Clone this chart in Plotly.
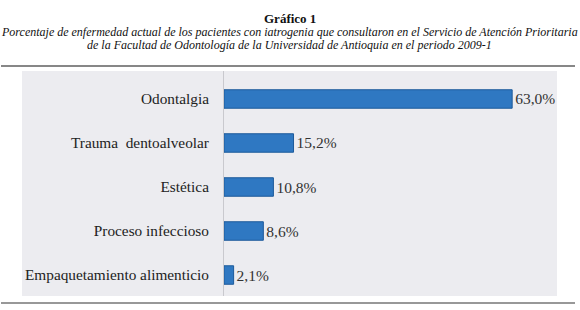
import plotly.graph_objects as go

categories = ["Odontalgia", "Trauma  dentoalveolar", "Estética", "Proceso infeccioso", "Empaquetamiento alimenticio"]
values = [63.0, 15.2, 10.8, 8.6, 2.1]
value_labels = ["63,0%", "15,2%", "10,8%", "8,6%", "2,1%"]

title_text = "<b>Gráfico 1</b>"
subtitle_lines = [
    "Porcentaje de enfermedad actual de los pacientes con iatrogenia que consultaron en el Servicio de Atención Prioritaria",
    "de la Facultad de Odontología de la Universidad de Antioquia en el periodo 2009-1",
]

W, H = 580, 310
L, R, T, B = 224, 23, 71, 14
pw = W - L - R
ph = H - T - B

def px_x(x):
    return (x - L) / pw

def px_y(y):
    return (H - B - y) / ph

SERIF = "Liberation Serif"

fig = go.Figure(go.Bar(
    x=values,
    y=categories,
    orientation="h",
    width=0.42,
    marker=dict(color="#2F78C2", line=dict(color="#1D5A9A", width=1)),
    text=value_labels,
    textposition="outside",
    textfont=dict(family=SERIF, size=15.5, color="#333333"),
    cliponaxis=False,
))

fig.update_layout(
    width=W, height=H,
    margin=dict(l=L, r=R, t=T, b=B),
    paper_bgcolor="white",
    plot_bgcolor="#ECECF0",
    showlegend=False,
    font=dict(family=SERIF),
    xaxis=dict(range=[0, 72.8], visible=False, fixedrange=True),
    yaxis=dict(
        categoryorder="array", categoryarray=categories,
        range=[4.477, -0.636],
        showline=True, linecolor="#C9C9CE", linewidth=1,
        showgrid=False, ticks="", ticklabelstandoff=11,
        tickfont=dict(family=SERIF, size=15.3, color="#222222"),
    ),
    shapes=[
        dict(type="rect", xref="paper", yref="paper", x0=px_x(22), x1=1, y0=0, y1=1,
             fillcolor="#ECECF0", line=dict(width=0), layer="below"),
        dict(type="line", xref="paper", yref="paper", x0=px_x(1), x1=px_x(575),
             y0=px_y(66), y1=px_y(66), line=dict(color="#111111", width=1.2)),
        dict(type="line", xref="paper", yref="paper", x0=px_x(1), x1=px_x(575),
             y0=px_y(303), y1=px_y(303), line=dict(color="#333333", width=1.2)),
    ],
    annotations=[
        dict(text=title_text, xref="paper", yref="paper", x=px_x(290), y=px_y(18),
             showarrow=False, xanchor="center", yanchor="middle",
             font=dict(family=SERIF, size=13, color="#111111")),
        dict(text="<i>" + subtitle_lines[0] + "</i>", xref="paper", yref="paper",
             x=px_x(289), y=px_y(32), showarrow=False, xanchor="center", yanchor="middle",
             font=dict(family=SERIF, size=12, color="#111111")),
        dict(text="<i>" + subtitle_lines[1] + "</i>", xref="paper", yref="paper",
             x=px_x(289), y=px_y(45), showarrow=False, xanchor="center", yanchor="middle",
             font=dict(family=SERIF, size=12, color="#111111")),
    ],
)

fig.write_html("out.html", config={"displayModeBar": False},
               post_script="document.body.style.margin='0';")
